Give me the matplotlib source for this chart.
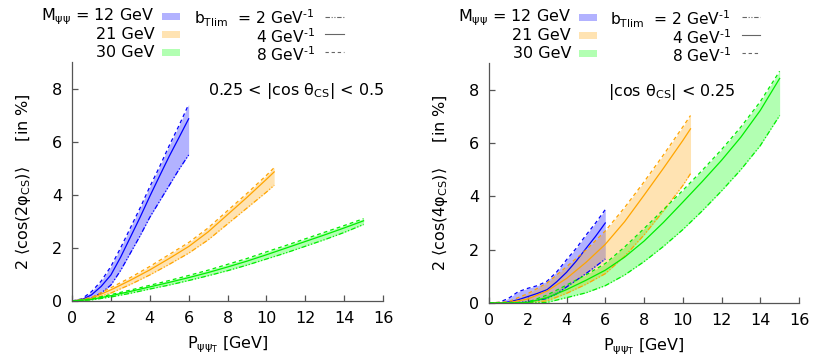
import matplotlib
matplotlib.use("Agg")
import matplotlib.pyplot as plt
from matplotlib.patches import Rectangle

plt.rcParams["font.family"] = ["DejaVu Sans"]
plt.rcParams["mathtext.default"] = "regular"
plt.rcParams["font.size"] = 11.5

# ---- |cos theta_CS| in [0.25, 0.5]: 2<cos(2 phi_CS)> in %
pt12_a = [0, 0.5, 1, 1.5, 2, 2.5, 3, 3.5, 4, 4.5, 5, 5.5, 6]
m12_b8_a = [0, 0.08, 0.35, 0.75, 1.3, 2.0, 2.75, 3.5, 4.3, 5.05, 5.85, 6.6, 7.4]
m12_b4_a = [0, 0.05, 0.23, 0.55, 0.98, 1.65, 2.4, 3.15, 3.94, 4.7, 5.45, 6.15, 6.86]
m12_b2_a = [0, 0.02, 0.12, 0.3, 0.6, 1.15, 1.8, 2.45, 3.15, 3.75, 4.35, 4.95, 5.5]

pt21_a = [0, 1, 2, 3, 4, 5, 6, 7, 8, 9, 10, 10.4]
m21_b8_a = [0, 0.13, 0.5, 0.88, 1.3, 1.75, 2.2, 2.75, 3.4, 4.05, 4.73, 5.02]
m21_b4_a = [0, 0.1, 0.42, 0.78, 1.17, 1.6, 2.05, 2.6, 3.25, 3.9, 4.58, 4.86]
m21_b2_a = [0, 0.06, 0.3, 0.62, 0.98, 1.38, 1.8, 2.3, 2.9, 3.5, 4.1, 4.36]

pt30_a = [0, 1, 2, 3, 4, 5, 6, 7, 8, 9, 10, 11, 12, 13, 14, 15]
m30_b8_a = [0, 0.08, 0.24, 0.41, 0.59, 0.77, 0.96, 1.16, 1.38, 1.6, 1.85, 2.09, 2.34, 2.59, 2.84, 3.1]
m30_b4_a = [0, 0.06, 0.2, 0.36, 0.53, 0.7, 0.88, 1.07, 1.28, 1.5, 1.74, 1.99, 2.24, 2.49, 2.75, 3.02]
m30_b2_a = [0, 0.04, 0.15, 0.29, 0.45, 0.6, 0.77, 0.95, 1.14, 1.35, 1.58, 1.81, 2.06, 2.31, 2.58, 2.88]

# ---- |cos theta_CS| < 0.25: 2<cos(4 phi_CS)> in %
pt12_b = [0, 0.5, 1, 1.5, 2, 2.5, 3, 3.5, 4, 4.5, 5, 5.5, 6]
m12_b8_b = [0, 0.02, 0.17, 0.42, 0.55, 0.65, 0.82, 1.17, 1.62, 2.05, 2.54, 3.0, 3.5]
m12_b4_b = [0, 0, 0.04, 0.12, 0.24, 0.36, 0.5, 0.8, 1.15, 1.57, 2.04, 2.5, 3.0]
m12_b2_b = [0, 0, 0, 0.02, 0.05, 0.1, 0.17, 0.35, 0.6, 0.85, 1.1, 1.37, 1.65]

pt21_b = [0, 1, 2, 3, 4, 5, 6, 7, 8, 9, 10, 10.4]
m21_b8_b = [0, 0.05, 0.35, 0.75, 1.36, 1.98, 2.7, 3.58, 4.54, 5.55, 6.6, 7.03]
m21_b4_b = [0, 0.01, 0.15, 0.45, 0.92, 1.52, 2.2, 3.05, 4.04, 5.05, 6.09, 6.53]
m21_b2_b = [0, 0, 0.01, 0.08, 0.36, 0.7, 1.1, 1.75, 2.55, 3.45, 4.4, 4.85]

pt30_b = [0, 1, 2, 3, 4, 5, 6, 7, 8, 9, 10, 11, 12, 13, 14, 15]
m30_b8_b = [0, 0, 0.03, 0.3, 0.67, 1.05, 1.48, 2.1, 2.79, 3.5, 4.22, 4.97, 5.75, 6.6, 7.55, 8.69]
m30_b4_b = [0, 0, 0.02, 0.2, 0.5, 0.85, 1.23, 1.72, 2.32, 3.02, 3.78, 4.55, 5.35, 6.22, 7.22, 8.42]
m30_b2_b = [0, 0, 0, 0.02, 0.2, 0.38, 0.65, 1.05, 1.55, 2.12, 2.75, 3.45, 4.2, 5.0, 5.9, 7.03]

masses = ["12 GeV", "21 GeV", "30 GeV"]
colors = ["#0000ff", "#ffa500", "#00ee00"]
fills = ["#0000ff", "#ffa500", "#00ff00"]
blims = ["2", "4", "8"]
dashdotdot = (0, (4, 1.5, 1, 1.5, 1, 1.5))
dashed = (0, (3, 2.5))
styles = [dashdotdot, "-", dashed]

panels = [
    dict(rect=[0.0886, 0.1569, 0.3825, 0.6695],
         ylabel="2 $\\langle$cos(2φ$_{CS}$)$\\rangle$     [in %]",
         note="0.25 < |cos θ$_{CS}$| < 0.5", note_x=0.72,
         curves=[(pt12_a, m12_b2_a, m12_b4_a, m12_b8_a),
                 (pt21_a, m21_b2_a, m21_b4_a, m21_b8_a),
                 (pt30_a, m30_b2_a, m30_b4_a, m30_b8_a)]),
    dict(rect=[0.6015, 0.1513, 0.3813, 0.6723],
         ylabel="2 $\\langle$cos(4φ$_{CS}$)$\\rangle$     [in %]",
         note="|cos θ$_{CS}$| < 0.25", note_x=0.59,
         curves=[(pt12_b, m12_b2_b, m12_b4_b, m12_b8_b),
                 (pt21_b, m21_b2_b, m21_b4_b, m21_b8_b),
                 (pt30_b, m30_b2_b, m30_b4_b, m30_b8_b)]),
]

fig = plt.figure(figsize=(8.13, 3.57), dpi=100)

for p in panels:
    ax = fig.add_axes(p["rect"])
    for (pt, lo, mid, hi), c, fc in zip(p["curves"], colors, fills):
        ax.fill_between(pt, lo, hi, color=fc, alpha=0.3, lw=0)
        for vals, ls in zip((lo, mid, hi), styles):
            ax.plot(pt, vals, color=c, lw=0.9, ls=ls)

    ax.set_xlim(0, 16)
    ax.set_ylim(0, 9)
    ax.set_xticks(range(0, 17, 2))
    ax.set_yticks(range(0, 9, 2))
    for s in ("top", "right"):
        ax.spines[s].set_visible(False)
    for s in ("left", "bottom"):
        ax.spines[s].set_color("#555555")
        ax.spines[s].set_linewidth(0.9)
    ax.tick_params(direction="in", length=4, width=0.9, color="#555555",
                   labelsize=11.5, pad=7)
    ax.set_xlabel("P$_{ψψ_T}$ [GeV]", fontsize=11.5, labelpad=6)
    ax.set_ylabel(p["ylabel"], fontsize=11.5, labelpad=14)
    ax.text(p["note_x"], 0.88, p["note"], transform=ax.transAxes,
            ha="center", va="center", fontsize=11.5)

    # key: mass bands on the left, b_Tlim line styles on the right
    tr = ax.transAxes
    ys = [1.19, 1.115, 1.04]
    mass_txt = ["M$_{ψψ}$ = " + masses[0], masses[1], masses[2]]
    for y, t, fc in zip(ys, mass_txt, fills):
        ax.text(0.265, y, t, transform=tr, ha="right", va="center",
                fontsize=11.5, clip_on=False)
        ax.add_patch(Rectangle((0.29, y - 0.016), 0.058, 0.032, transform=tr,
                               color=fc, alpha=0.3, lw=0, clip_on=False))
    for y, b, ls in zip(ys, blims, styles):
        lead = "b$_{Tlim}$  = " if b == "2" else ""
        ax.text(0.78, y - 0.008, lead + b + " GeV$^{\\text{-}1}$", transform=tr,
                ha="right", va="center", fontsize=11.2, clip_on=False)
        ax.plot([0.815, 0.875], [y, y], transform=tr, color="#666666",
                lw=0.8, ls=ls, clip_on=False)

fig.savefig("out.png", dpi=100)
